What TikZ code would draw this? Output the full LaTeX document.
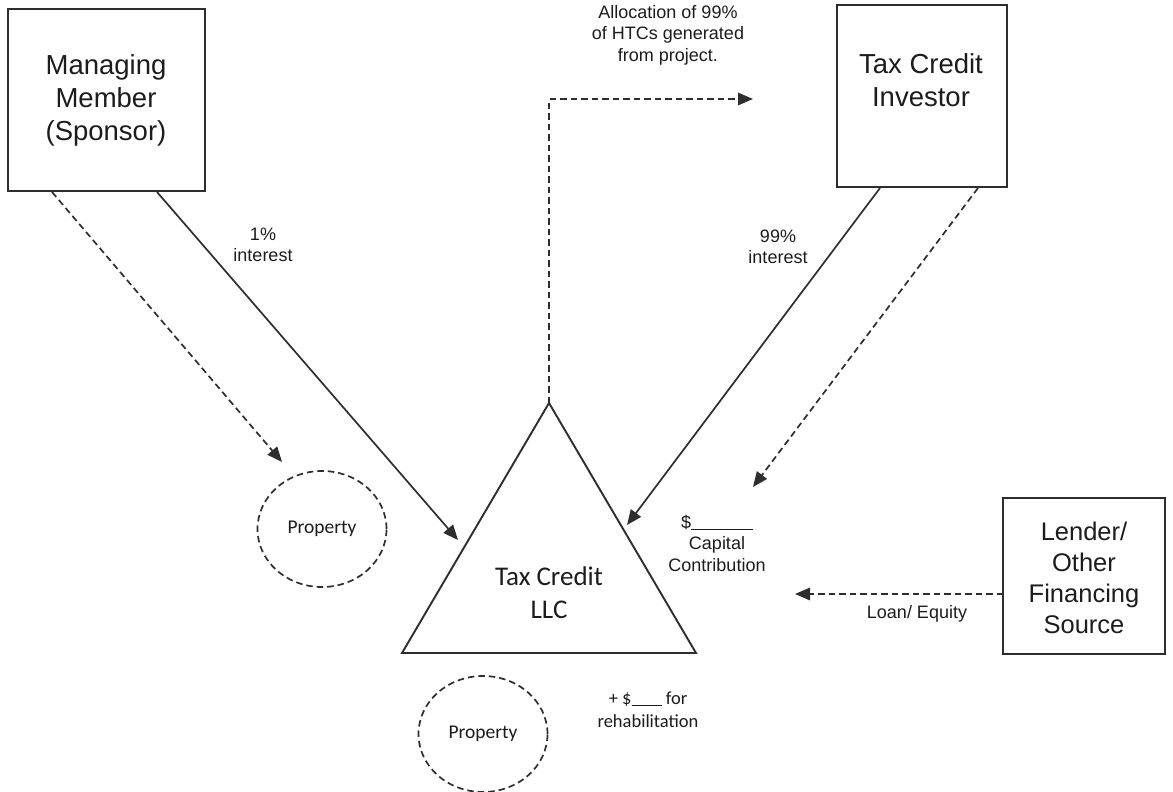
\documentclass[tikz,border=0pt]{standalone}
\usepackage{fontspec}
\setmainfont{Liberation Sans}
\newfontfamily\carlito{Carlito}
\usetikzlibrary{arrows.meta,shapes.geometric}
\definecolor{ln}{HTML}{2E2E2E}
\definecolor{tx}{HTML}{1C1C1C}
\begin{document}
\begin{tikzpicture}[x=1pt,y=-1pt,
  box/.style={draw=ln,line width=1.9pt,inner sep=0pt},
  big/.style={text=tx,align=center,inner sep=0pt,font=\fontsize{27.5}{33}\selectfont},
  lend/.style={text=tx,align=center,inner sep=0pt,font=\fontsize{25.5}{31}\selectfont},
  small/.style={text=tx,align=center,inner sep=0pt,font=\fontsize{18}{21.5}\selectfont},
  prop/.style={draw=ln,line width=1.7pt,dash pattern=on 6.5pt off 4pt,ellipse,minimum width=129,minimum height=116,inner sep=0pt,text=tx,font=\carlito\fontsize{19.5}{23}\selectfont},
  conn/.style={draw=ln,line width=1.7pt,-{Triangle[length=15pt,width=12.5pt]}},
  dconn/.style={conn,dash pattern=on 6.5pt off 4pt}
]
\useasboundingbox (0,0) rectangle (1173,792);
% boxes
\node[box,minimum width=197,minimum height=182] (mm) at (106.5,100) {};
\node[big] (mmt) at (106,100) {Managing\\Member\\(Sponsor)};
\node[box,minimum width=170,minimum height=182] (inv) at (922,96) {};
\node[big] (invt) at (921,80) {Tax Credit\\Investor};
\node[box,minimum width=162,minimum height=156] (lend) at (1084,576) {};
\node[lend] (lendt) at (1084,578) {Lender/\\Other\\Financing\\Source};
% triangle
\coordinate (apex) at (549,403);
\coordinate (bl) at (402,653);
\coordinate (br) at (696,653);
\draw[draw=ln,line width=1.9pt,line join=miter] (apex) -- (bl) -- (br) -- cycle;
\node[text=tx,align=center,inner sep=0pt,font=\carlito\fontsize{27}{33}\selectfont] (llc) at (549,593) {Tax Credit\\LLC};
% properties
\node[prop] (p1) at (322,529) {Property};
\node[prop] (p2) at (483,734) {Property};
% connector end points
\coordinate (mmd) at (52,192);
\coordinate (mms) at (157,192);
\coordinate (p1in) at (282,462);
\coordinate (llcl) at (458,540);
\coordinate (invs) at (880,188);
\coordinate (invd) at (978,188);
\coordinate (llcr) at (627,525);
\coordinate (capin) at (753,487);
\coordinate (lendw) at (1003,594);
\coordinate (loanin) at (795,594);
\coordinate (alloc) at (753,99);
% connectors
\draw[dconn] (mmd) -- (p1in);
\draw[conn] (mms) -- (llcl);
\draw[conn] (invs) -- (llcr);
\draw[dconn] (invd) -- (capin);
\draw[dconn] (lendw) -- (loanin);
\draw[dconn] (apex) |- (alloc);
% labels
\node[small] (l1) at (668,35) {Allocation of 99\%\\of HTCs generated\\from project.};
\node[small] (l2) at (263,245) {1\%\\interest};
\node[small] (l3) at (778,247) {99\%\\interest};
\node[small] (l4) at (717,543) {\$\rule[-1.5pt]{62pt}{1pt}\\Capital\\Contribution};
\node[small] (l5) at (917,614) {Loan/ Equity};
\node[text=tx,align=center,inner sep=0pt,font=\carlito\fontsize{18.5}{23}\selectfont] (l6) at (648,710) {+ \$\rule[-1.5pt]{30pt}{1pt} for\\rehabilitation};
\end{tikzpicture}
\end{document}
